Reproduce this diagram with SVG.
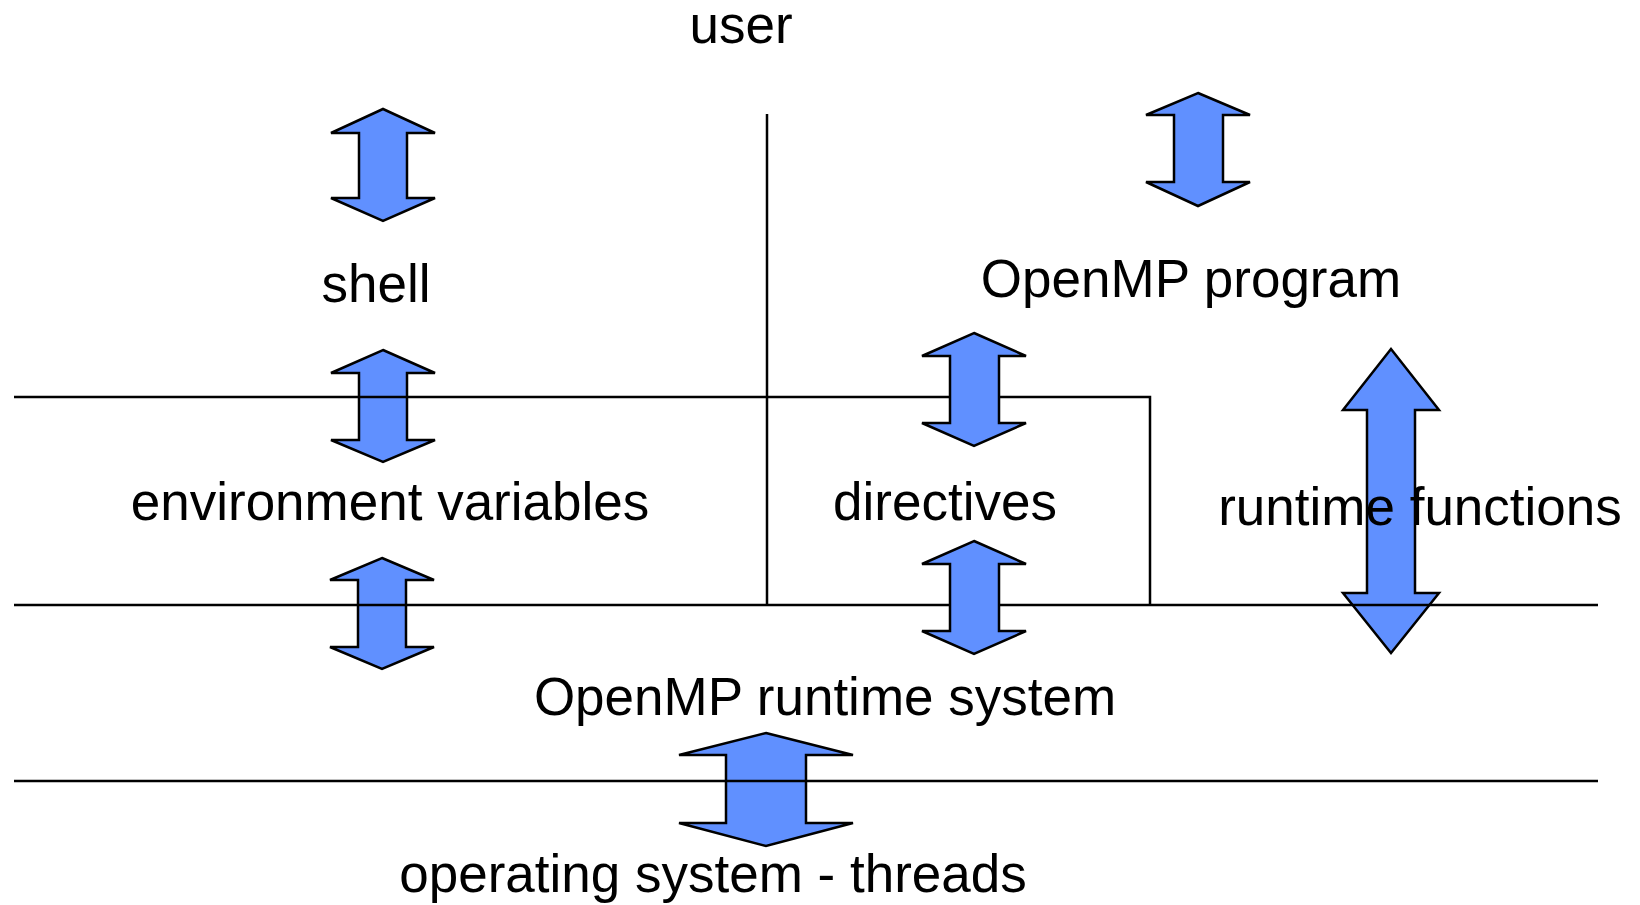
<svg xmlns="http://www.w3.org/2000/svg" width="1640" height="905" viewBox="0 0 1640 905">
<style>
.t{font-family:"Liberation Sans",Arial,sans-serif;font-size:53px;fill:#000;text-anchor:middle}
.a{fill:#6090FF;stroke:#000;stroke-width:2.5;stroke-linejoin:miter}
.l{stroke:#000;stroke-width:2.5;fill:none}
</style>
<rect width="1640" height="905" fill="#fff"/>
<g id="arrows-back">
<polygon id="arrow-user-shell" class="a" points="383,109 435,133 407,133 407,198 435,198 383,221 331,198 359,198 359,133 331,133"/>
<polygon id="arrow-shell-env" class="a" points="383,350 435,373 407,373 407,440 435,440 383,462 331,440 359,440 359,373 331,373"/>
<polygon id="arrow-env-runtime" class="a" points="382,558 434,580 406,580 406,647 434,647 382,669 330,647 358,647 358,580 330,580"/>
<polygon id="arrow-user-program" class="a" points="1198,93 1250,115 1223,115 1223,182 1250,182 1198,206 1146,182 1174,182 1174,115 1146,115"/>
<polygon id="arrow-runtime-functions" class="a" points="1391,349 1439,410 1415,410 1415,593 1439,593 1391,653 1343,593 1367,593 1367,410 1343,410"/>
<polygon id="arrow-runtime-os" class="a" points="766,733 853,755 806,755 806,823 853,823 766,846 679,823 726,823 726,755 679,755"/>
</g>
<g id="connectors">
<line class="l" x1="767" y1="114" x2="767" y2="605"/>
<polyline class="l" points="14,397 1150,397 1150,605"/>
<line class="l" x1="14" y1="605" x2="1598" y2="605"/>
<line class="l" x1="14" y1="781" x2="1598" y2="781"/>
</g>
<g id="arrows-front">
<polygon id="arrow-program-directives" class="a" points="974,333 1026,356 999,356 999,423 1026,423 974,446 922,423 950,423 950,356 922,356"/>
<polygon id="arrow-directives-runtime" class="a" points="974,541 1026,564 999,564 999,631 1026,631 974,654 922,631 950,631 950,564 922,564"/>
</g>
<g id="node-user"><text class="t" x="741" y="43">user</text></g>
<g id="node-shell"><text class="t" x="376" y="302">shell</text></g>
<g id="node-program"><text class="t" x="1191" y="297">OpenMP program</text></g>
<g id="node-env"><text class="t" x="390" y="520">environment variables</text></g>
<g id="node-directives"><text class="t" x="945" y="520">directives</text></g>
<g id="node-functions"><text class="t" x="1420" y="525">runtime functions</text></g>
<g id="node-runtime"><text class="t" x="825" y="715">OpenMP runtime system</text></g>
<g id="node-os"><text class="t" x="713" y="892">operating system - threads</text></g>
</svg>
